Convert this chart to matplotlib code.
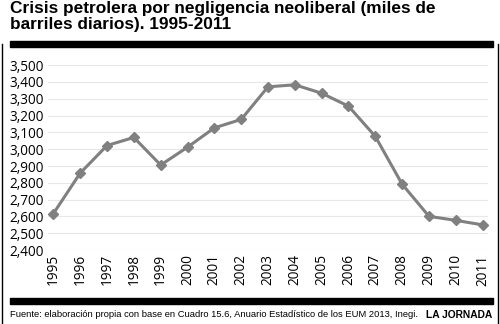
import matplotlib.pyplot as plt
from matplotlib.lines import Line2D
from matplotlib.patches import Rectangle

years = [str(y) for y in range(1995, 2012)]
barrels = [2617, 2858, 3022, 3070, 2906, 3012, 3127, 3177, 3371,
           3383, 3333, 3256, 3076, 2792, 2601, 2577, 2550]
y_ticks = list(range(2400, 3600, 100))

title = "Crisis petrolera por negligencia neoliberal (miles de\nbarriles diarios). 1995-2011"
source = "Fuente: elaboración propia con base en Cuadro 15.6, Anuario Estadístico de los EUM 2013, Inegi."

fig = plt.figure(figsize=(5, 3.24), dpi=100)
ax = fig.add_axes([0.096, 0.228, 0.88, 0.571])

x = range(len(years))
ax.plot(x, barrels, color="#808080", linewidth=2.2, marker="D", markersize=5.5)
ax.set_xlim(-0.2, 16.2)
ax.set_ylim(2400, 3500)
ax.set_yticks(y_ticks)
ax.set_yticklabels([f"{v:,}" for v in y_ticks], fontsize=9.8, family="Open Sans")
ax.set_xticks(list(x))
ax.set_xticklabels(years, rotation=90, fontsize=9.8, family="Open Sans")
ax.grid(axis="y", color="#e8e8e8", linewidth=0.8)
ax.set_axisbelow(True)
for s in ax.spines.values():
    s.set_visible(False)
ax.tick_params(length=0, pad=3)

fig.text(0.02, 0.998, title, fontsize=12.4, fontweight="bold", family="Liberation Sans",
         va="top", ha="left", linespacing=1.12)

# thick rules and side borders
fig.add_artist(Rectangle((0.02, 0.856), 0.965, 0.016, color="black", transform=fig.transFigure))
fig.add_artist(Rectangle((0.02, 0.063), 0.965, 0.016, color="black", transform=fig.transFigure))
fig.add_artist(Line2D([0.004, 0.004], [0.0, 0.865], color="black", linewidth=1))
fig.add_artist(Line2D([0.995, 0.995], [0.0, 0.865], color="black", linewidth=1))

fig.text(0.02, 0.028, source, fontsize=6.75, family="Liberation Sans", va="center", ha="left")
fig.text(0.985, 0.028, "LA JORNADA", fontsize=7.4, fontweight="bold",
         family="Liberation Sans", va="center", ha="right")

fig.savefig("out.png", dpi=100)
